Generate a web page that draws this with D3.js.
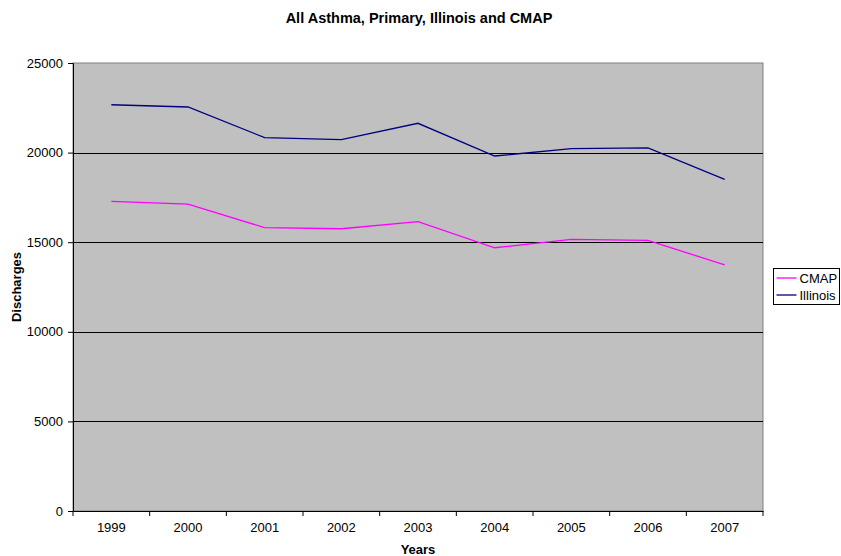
<!DOCTYPE html>
<html>
<head>
<meta charset="utf-8">
<script src="https://cdn.jsdelivr.net/npm/d3@7"></script>
<style>
  body { margin: 0; background: #fff; }
  svg { display: block; }
  svg text { font-family: Arial, "Liberation Sans", sans-serif; }
</style>
</head>
<body>
<script>
// chart data
var years = ["1999", "2000", "2001", "2002", "2003", "2004", "2005", "2006", "2007"];
var cmap = [17280, 17130, 15810, 15750, 16145, 14690, 15160, 15105, 13730];
var illinois = [22670, 22545, 20835, 20720, 21635, 19810, 20220, 20260, 18510];
var yTicks = [0, 5000, 10000, 15000, 20000, 25000];

var width = 841, height = 556;
var margin = {left: 73, right: 78, top: 63, bottom: 45};
var plotW = width - margin.left - margin.right;
var plotH = height - margin.top - margin.bottom;

var svg = d3.select("body").append("svg").attr("width", width).attr("height", height);

var x = d3.scaleBand().domain(years).range([0, plotW]);
var y = d3.scaleLinear().domain([0, 25000]).range([plotH, 0]);

var g = svg.append("g").attr("transform", "translate(" + margin.left + "," + margin.top + ")");

// plot background
g.append("rect").attr("width", plotW).attr("height", plotH)
    .style("fill", "#c0c0c0").style("stroke", "#808080").style("stroke-width", 1);

// gridlines
g.selectAll(".grid").data(yTicks.filter(function(d) { return d > 0 && d < 25000; }))
    .enter().append("line")
    .attr("x1", 0).attr("x2", plotW)
    .attr("y1", function(d) { return Math.round(y(d)) + 0.5; })
    .attr("y2", function(d) { return Math.round(y(d)) + 0.5; })
    .style("stroke", "#000").style("stroke-width", 1);

// y axis
var yAxis = d3.axisLeft(y).tickValues(yTicks).tickSize(5).tickPadding(5).tickFormat(d3.format("d"));
var ya = g.append("g").call(yAxis).attr("font-family", null).attr("font-size", null);
ya.select(".domain").style("stroke", "#000");
ya.selectAll("text").style("font-size", "13px").style("fill", "#000");

// x axis with ticks between categories
var xa = g.append("g").attr("transform", "translate(0," + plotH + ")")
    .call(d3.axisBottom(x).tickSize(0).tickPadding(12)).attr("font-family", null).attr("font-size", null);
xa.select(".domain").style("stroke", "#000");
xa.selectAll("text").style("font-size", "13px").style("fill", "#000");
var bounds = d3.range(years.length + 1).map(function(i) { return i * x.bandwidth(); });
xa.selectAll(".xtick").data(bounds).enter().append("line")
    .attr("x1", function(d) { return d; }).attr("x2", function(d) { return d; })
    .attr("y1", 0).attr("y2", 5)
    .style("stroke", "#000");

// lines
var line = d3.line()
    .x(function(d, i) { return x(years[i]) + x.bandwidth() / 2; })
    .y(function(d) { return y(d); });

g.append("path").datum(cmap).attr("d", line)
    .style("fill", "none").style("stroke", "#ff00ff").style("stroke-width", 1.3);
g.append("path").datum(illinois).attr("d", line)
    .style("fill", "none").style("stroke", "#000080").style("stroke-width", 1.3);

// titles
svg.append("text").attr("x", 419).attr("y", 23).attr("text-anchor", "middle")
    .style("font-size", "14.5px").style("font-weight", "bold")
    .text("All Asthma, Primary, Illinois and CMAP");
svg.append("text").attr("x", margin.left + plotW / 2).attr("y", 554).attr("text-anchor", "middle")
    .style("font-size", "13px").style("font-weight", "bold").text("Years");
svg.append("text").attr("transform", "translate(21," + (margin.top + plotH / 2) + ") rotate(-90)")
    .attr("text-anchor", "middle")
    .style("font-size", "13px").style("font-weight", "bold").text("Discharges");

// legend
var legend = svg.append("g").attr("transform", "translate(773.5,268.5)");
legend.append("rect").attr("width", 66).attr("height", 36)
    .style("fill", "#fff").style("stroke", "#000").style("stroke-width", 1);
var items = [{name: "CMAP", color: "#ff00ff"}, {name: "Illinois", color: "#000080"}];
items.forEach(function(d, i) {
    var ly = 9.5 + i * 17;
    legend.append("line").attr("x1", 3).attr("x2", 23).attr("y1", ly).attr("y2", ly)
        .style("stroke", d.color).style("stroke-width", 1.3);
    legend.append("text").attr("x", 26).attr("y", ly + 4.5)
        .style("font-size", "13px").text(d.name);
});
</script>
</body>
</html>
